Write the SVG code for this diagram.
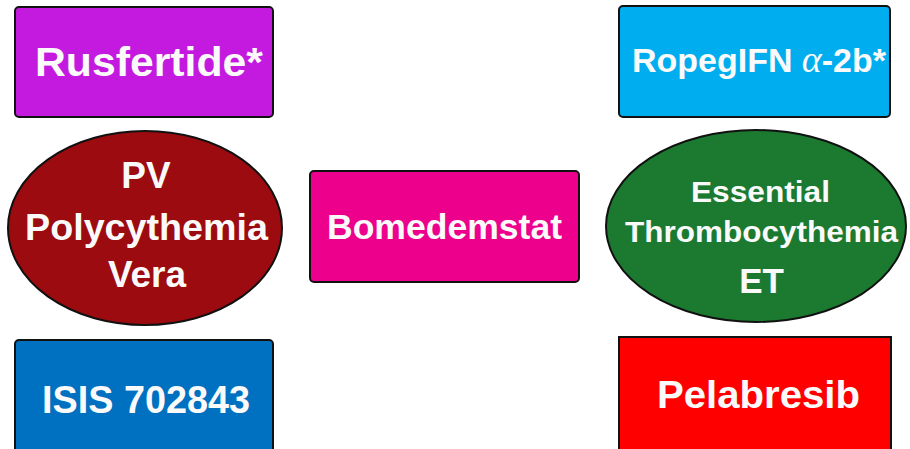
<svg xmlns="http://www.w3.org/2000/svg" width="910" height="449" viewBox="0 0 910 449">
<style>
.box{stroke:#111;stroke-width:2}
.t{font-family:"Liberation Sans",Arial,sans-serif;font-weight:bold;fill:#FAFAFA;text-anchor:middle}
</style>
<rect width="910" height="449" fill="#fff"/>
<g id="rusfertide">
<rect class="box" x="15" y="7" width="258" height="110" rx="4" fill="#C41AE0"/>
<text class="t" x="149" y="76" font-size="40" textLength="228" lengthAdjust="spacingAndGlyphs">Rusfertide*</text>
</g>
<g id="ropeg">
<rect class="box" x="619" y="6" width="271" height="111" rx="4" fill="#00AEEF"/>
<text class="t" x="759" y="72" font-size="34" textLength="254" lengthAdjust="spacingAndGlyphs">RopegIFN <tspan font-family="'Liberation Serif',serif" font-weight="normal" font-style="italic" font-size="38">α</tspan>-2b*</text>
</g>
<g id="pv">
<ellipse class="box" cx="145" cy="228" rx="137" ry="97" fill="#9C0B0F"/>
<text class="t" x="146" y="188" font-size="37">PV</text>
<text class="t" x="146.5" y="240" font-size="36" textLength="243" lengthAdjust="spacingAndGlyphs">Polycythemia</text>
<text class="t" x="147" y="287" font-size="37">Vera</text>
</g>
<g id="bomedemstat">
<rect class="box" x="310" y="171" width="269" height="111" rx="4" fill="#EC008C"/>
<text class="t" x="444.5" y="239" font-size="35" textLength="235" lengthAdjust="spacingAndGlyphs">Bomedemstat</text>
</g>
<g id="et">
<ellipse class="box" cx="756" cy="226" rx="150" ry="96" fill="#1B7A2F"/>
<text class="t" x="760.5" y="202" font-size="29" textLength="139" lengthAdjust="spacingAndGlyphs">Essential</text>
<text class="t" x="761.5" y="242" font-size="29" textLength="273" lengthAdjust="spacingAndGlyphs">Thrombocythemia</text>
<text class="t" x="761.5" y="293" font-size="35">ET</text>
</g>
<g id="isis">
<rect class="box" x="15" y="340" width="258" height="120" rx="4" fill="#0070C0"/>
<text class="t" x="146" y="413" font-size="38" textLength="208" lengthAdjust="spacingAndGlyphs">ISIS 702843</text>
</g>
<g id="pelabresib">
<rect class="box" x="619" y="337" width="272" height="120" fill="#FF0000"/>
<text class="t" x="758.5" y="408" font-size="39" textLength="203" lengthAdjust="spacingAndGlyphs">Pelabresib</text>
</g>
<g id="connectors"></g>
</svg>
